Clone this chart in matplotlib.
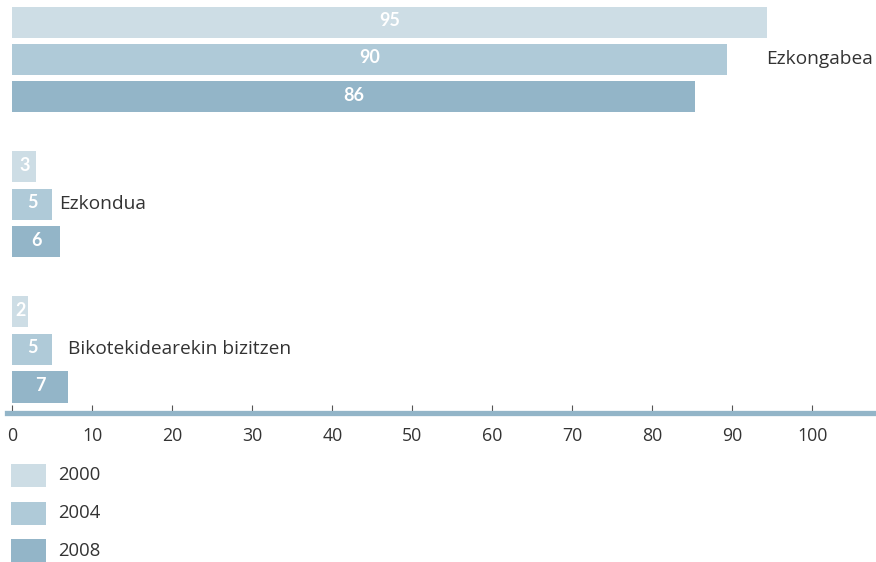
import matplotlib
matplotlib.use("Agg")
import matplotlib.pyplot as plt

plt.rcParams['font.family'] = ['Open Sans', 'DejaVu Sans']

categories = ["Ezkongabea", "Ezkondua", "Bikotekidearekin bizitzen"]
years = ["2000", "2004", "2008"]
# bar lengths as drawn, and printed value labels
values = {
    "2000": [94.3, 3.0, 2.0],
    "2004": [89.3, 5.0, 5.0],
    "2008": [85.3, 6.0, 7.0],
}
value_labels = {
    "2000": ["95", "3", "2"],
    "2004": ["90", "5", "5"],
    "2008": ["86", "6", "7"],
}
xticks = [0, 10, 20, 30, 40, 50, 60, 70, 80, 90, 100]

colors = {"2000": "#CDDDE5", "2004": "#AFCAD8", "2008": "#93B5C8"}
text_color = "#333333"

W, H = 876, 562
fig = plt.figure(figsize=(W / 100, H / 100), dpi=100)

# axes from x px 7 to 876, y px 0 to 412.5
ax = fig.add_axes([7 / W, 1 - 412.5 / H, (876 - 7) / W, 412.5 / H])
ax.set_xlim((7 - 12.3) / 8.0, (876 - 12.3) / 8.0)
ax.set_ylim((412.5 - 59.5) / 145, (0 - 59.5) / 145)

pitch = 37.5 / 145
bh = 31 / 145
for k, yr in enumerate(years):
    off = (k - 1) * pitch
    for g, v in enumerate(values[yr]):
        ax.barh(g + off, v, height=bh, color=colors[yr], edgecolor='none', zorder=2)
        ax.text(v / 2, g + off - 0.012, value_labels[yr][g], color='white', fontweight='bold',
                family=['Lato', 'DejaVu Sans'],
                fontsize=13, ha='center', va='center', zorder=3)

for g, cat in enumerate(categories):
    mx = max(values[yr][g] for yr in years)
    ax.text(mx - 0.1, g, cat, color=text_color, fontsize=13.8, ha='left', va='center')

for s in ['top', 'right', 'left']:
    ax.spines[s].set_visible(False)
ax.spines['bottom'].set_color('#93B5C8')
ax.spines['bottom'].set_linewidth(3.8)
ax.spines['bottom'].set_zorder(4)
ax.set_yticks([])
ax.set_xticks(xticks)
ax.set_xticklabels([str(t) for t in xticks])
ax.tick_params(axis='x', direction='in', length=5.5, width=0.8, color='#555555',
               labelsize=12.8, labelcolor=text_color, pad=10.5)
ax.patch.set_alpha(0)

# legend drawn in a pixel-coordinate overlay axes
lax = fig.add_axes([0, 0, 1, 1])
lax.set_xlim(0, W)
lax.set_ylim(H, 0)
lax.axis('off')
for i, yr in enumerate(years):
    yc = 475.5 + 37.5 * i
    lax.barh(yc, 35, left=11, height=23, color=colors[yr], edgecolor='none')
    lax.text(58.5, yc, yr, color=text_color, fontsize=13.3, ha='left', va='center')

fig.savefig("out.png", dpi=100)
